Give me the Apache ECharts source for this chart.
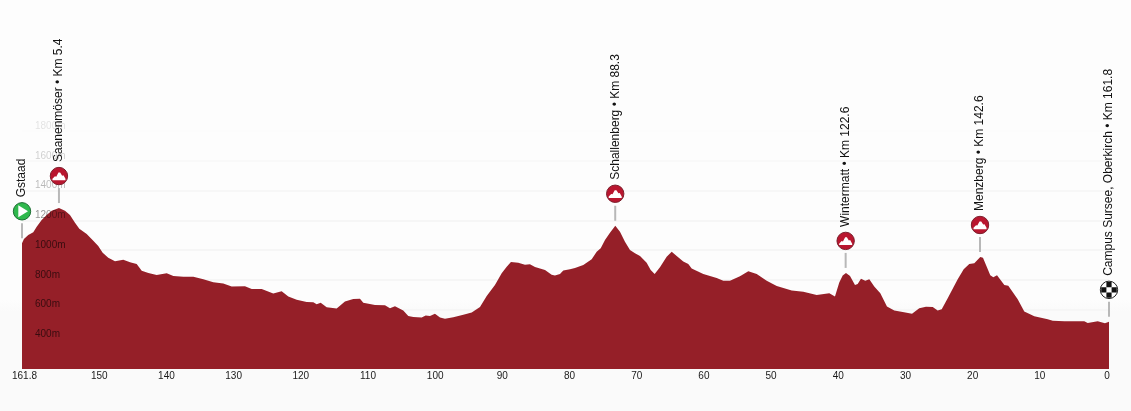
<!DOCTYPE html>
<html><head><meta charset="utf-8">
<script src="https://cdn.jsdelivr.net/npm/echarts@6/dist/echarts.min.js"></script>
<style>html,body{margin:0;padding:0;width:1131px;height:411px;overflow:hidden;background:linear-gradient(#fdfdfd,#fdfdfd 300px,#fafafa 312px,#fafafa)}#c{width:1131px;height:411px}</style>
</head><body><div id="c"></div>
<script>
var kmRemaining=[161.8,161.51,160.87,160.12,159.61,158.87,158.13,157.38,156.3,155.4,154.66,153.91,153.27,152.17,151.19,150.45,149.79,148.96,147.96,146.72,145.72,144.73,143.98,142.99,141.75,140.26,139.27,137.78,136.29,134.81,133.32,131.84,130.59,128.61,127.61,126.12,124.4,123.15,122.16,120.91,119.43,118.44,117.94,117.34,116.45,114.96,113.73,112.49,111.49,111,109.26,107.77,107.03,106.28,105.05,104.3,103.56,102.31,101.71,101.07,100.33,99.58,98.84,97.6,96.11,94.86,93.63,92.63,91.4,90.4,89.65,89.02,87.93,86.93,86.19,85.44,83.95,82.96,82.47,81.72,81.23,80.23,79.49,78.25,77,76.26,75.66,75.02,74.28,73.49,72.79,72.05,71.3,70.56,69.81,68.82,68.22,67.63,66.84,65.84,65.09,64.35,63.37,62.62,62.12,60.39,58.4,57.41,56.42,54.93,53.69,52.44,50.95,49.46,47.23,45.5,43.51,41.63,40.79,40.15,39.64,39.15,38.55,37.81,37.41,36.92,36.28,35.68,34.94,34.04,33.05,31.96,30.71,29.32,28.24,27.24,26.24,25.5,24.9,24.01,22.52,21.63,20.8,20.05,19.16,18.76,17.67,17.22,16.67,15.58,14.99,13.59,12.61,11.12,9.12,8.38,6.65,3.68,3.17,1.68,0.6,0];
var elevation=[1045,1074,1101,1119,1156,1201,1235,1264,1282,1264,1235,1183,1143,1107,1062,1027,982,948,924,935,917,906,861,846,832,844,826,821,821,803,783,774,754,756,738,738,707,723,688,666,651,649,636,646,615,606,653,671,673,646,631,629,609,622,593,557,550,546,559,557,571,546,537,548,564,579,616,691,765,844,888,920,915,901,904,886,866,834,828,839,862,870,879,899,938,989,1011,1067,1116,1163,1123,1056,1000,978,960,915,866,839,884,955,989,960,922,906,875,839,812,794,794,824,857,839,794,758,727,720,698,709,687,782,829,846,826,765,772,806,794,803,754,709,620,593,584,571,609,618,616,593,602,676,803,870,906,911,953,948,830,817,830,765,760,669,586,555,535,524,521,521,510,521,508,517];
var xTickValues=[161.8,150,140,130,120,110,100,90,80,70,60,50,40,30,20,10,0];
var yTickValues=[400,600,800,1000,1200,1400,1600,1800];
var placeKm=[161.8,156.3,73.5,39.2,19.2,0];
var placeElevation=[1045,1282,1163,846,953,517];
var placeNames=['Gstaad','Saanenmöser • Km 5.4','Schallenberg • Km 88.3','Wintermatt • Km 122.6','Menzberg • Km 142.6','Campus Sursee, Oberkirch • Km 161.8'];
var placeKinds=['start','climb','climb','climb','climb','finish'];

var FONT='"Liberation Sans",Arial,sans-serif';
var labelColors={400:'rgba(0,0,0,.62)',600:'rgba(0,0,0,.62)',800:'rgba(0,0,0,.62)',1000:'rgba(0,0,0,.62)',1200:'rgba(0,0,0,.42)',1400:'rgba(0,0,0,.27)',1600:'rgba(0,0,0,.19)',1800:'rgba(0,0,0,.11)'};

function markerChildren(kind,cx,cy){
  var kids=[];
  if(kind==='start'){
    kids.push({type:'circle',shape:{cx:cx,cy:cy,r:8.7},style:{fill:'#2fb84d',stroke:'#1f6e35',lineWidth:1}});
    kids.push({type:'polygon',shape:{points:[[cx-3.7,cy-6],[cx+6,cy],[cx-3.7,cy+6]]},style:{fill:'#fff'}});
  }else if(kind==='climb'){
    kids.push({type:'circle',shape:{cx:cx,cy:cy,r:8.7},style:{fill:'#b9162f',stroke:'#7a1f2c',lineWidth:1}});
    kids.push({type:'polygon',shape:{points:[[cx-6.5,cy+4.2],[cx-6.5,cy+2.8],[cx-4,cy+.2],[cx-2.7,cy+.6],[cx-.5,cy-3.6],[cx+1.2,cy-3.6],[cx+3.2,cy-.4],[cx+4.5,cy-.8],[cx+6.5,cy+2.8],[cx+6.5,cy+4.2]]},style:{fill:'#fff'}});
  }else{
    kids.push({type:'circle',shape:{cx:cx,cy:cy,r:8.7},style:{fill:'#fff',stroke:'#222',lineWidth:1}});
    var s=5.2;
    for(var i=-2;i<=2;i++)for(var j=-2;j<=2;j++){
      if(Math.abs(i+j)%2===1)kids.push({type:'rect',shape:{x:cx+i*s-s/2,y:cy+j*s-s/2,width:s,height:s},style:{fill:'#111'},clipPath:{type:'circle',shape:{cx:cx,cy:cy,r:8.4}}});
    }
  }
  return kids;
}

var chart=echarts.init(document.getElementById('c'),null,{renderer:'canvas'});
chart.setOption({
  animation:false,
  backgroundColor:'transparent',
  grid:{left:22,width:1087,top:131,bottom:42,containLabel:false},
  xAxis:{type:'value',inverse:true,min:0,max:161.8,
    axisLine:{show:false},axisTick:{show:false},splitLine:{show:false},
    axisLabel:{customValues:xTickValues,margin:2.5,color:'#1a1a1a',fontFamily:FONT,fontSize:10,hideOverlap:false,showMinLabel:true,showMaxLabel:true,
      formatter:function(v){return v===161.8?'{f|161.8}':'{t|'+v+'}';},
      rich:{t:{padding:[0,4,0,0],fontFamily:FONT,fontSize:10,color:'#1a1a1a'},f:{padding:[0,0,0,5],fontFamily:FONT,fontSize:10,color:'#1a1a1a'}}}},
  yAxis:[
    {type:'value',min:200,max:1800,interval:200,z:0,
      axisLine:{show:false},axisTick:{show:false},axisLabel:{show:false},
      splitLine:{show:true,lineStyle:{width:2,color:['transparent','#f6f6f6','#f6f6f6','#f6f6f6','#f6f6f6','#f6f6f6','#f7f7f7','#f9f9f9','#fcfcfc']}}},
    {type:'value',position:'left',min:200,max:1800,interval:200,z:5,
      axisLine:{show:false},axisTick:{show:false},splitLine:{show:false},
      axisLabel:{inside:true,margin:13,verticalAlign:'bottom',align:'left',fontFamily:FONT,fontSize:10,
        customValues:yTickValues,
        formatter:function(v){return v+'m';},
        color:function(v){return labelColors[v]||'transparent';}}}
  ],
  series:[
    {type:'line',yAxisIndex:0,z:2,showSymbol:false,symbol:'none',smooth:false,silent:true,
      data:kmRemaining.map(function(k,i){return [k,elevation[i]];}),
      lineStyle:{width:0},areaStyle:{color:'#951f28',opacity:1,origin:'start'}},
    {type:'custom',yAxisIndex:0,z:6,silent:true,clip:false,
      data:placeKm.map(function(k,i){return [k,placeElevation[i],i];}),
      renderItem:function(p,api){
        var pt=api.coord([api.value(0),api.value(1)]),i=api.value(2),x=pt[0],y=pt[1],cy=y-32;
        var kids=[
          {type:'rect',shape:{x:x-1,y:y-20,width:2,height:15},style:{fill:'#b8b8b8'}},
          {type:'text',x:x,y:cy-14,rotation:Math.PI/2,style:{text:placeNames[i],align:'left',verticalAlign:'middle',fontFamily:FONT,fontSize:12,fill:'#111'}}
        ].concat(markerChildren(placeKinds[i],x,cy));
        return {type:'group',children:kids};
      }}
  ]
});
</script></body></html>
